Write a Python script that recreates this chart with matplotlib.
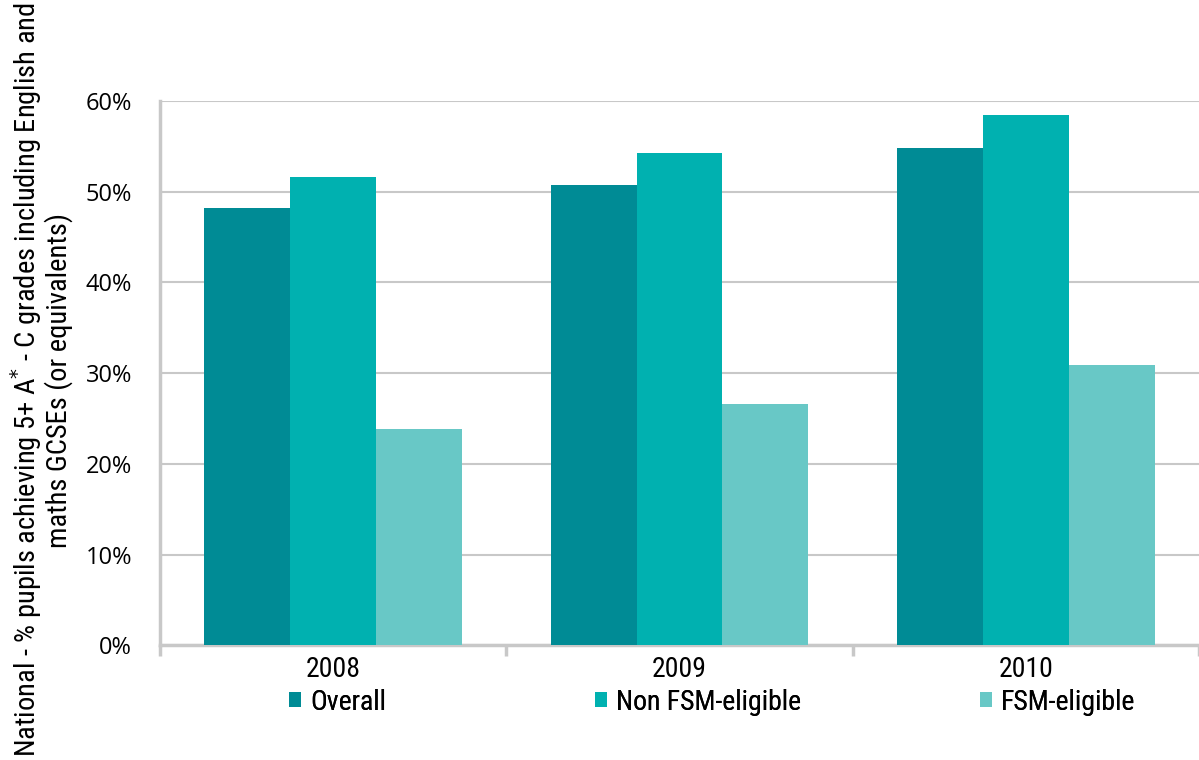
import numpy as np
import matplotlib.pyplot as plt
from matplotlib.ticker import FixedLocator, PercentFormatter

years = ['2008', '2009', '2010']
overall = [48.2, 50.7, 54.8]
non_fsm = [51.6, 54.3, 58.5]
fsm = [23.8, 26.6, 30.9]

series = [
    ('Overall', overall, '#008b95'),
    ('Non FSM-eligible', non_fsm, '#00b1b0'),
    ('FSM-eligible', fsm, '#68c8c6'),
]

NARROW = ['Roboto Condensed', 'Fira Sans Condensed', 'PT Sans Narrow',
          'Liberation Sans Narrow', 'DejaVu Sans']
GRID = '#c8c8c8'
LEGEND_X = [0.241, 0.496, 0.817]

fig = plt.figure(figsize=(11.99, 7.6), dpi=100)
ax = fig.add_axes([0.1334, 0.151, 0.8666, 0.716])

x = np.arange(len(years))
width = 0.248
bars = []
for i, (label, vals, color) in enumerate(series):
    bars.append(ax.bar(x + (i - 1) * width, vals, width, color=color,
                       label=label, zorder=3, linewidth=0))

ax.set_xlim(-0.5, len(years) - 0.5)
ax.set_ylim(0, 60)
ax.set_yticks(range(0, 61, 10))
ax.yaxis.set_major_formatter(PercentFormatter(decimals=0))
ax.grid(axis='y', color=GRID, linewidth=1.5, zorder=0)

for side in ('top', 'right'):
    ax.spines[side].set_visible(False)
for side in ('left', 'bottom'):
    ax.spines[side].set_color(GRID)
    ax.spines[side].set_linewidth(2.5)

ax.set_xticks(x)
ax.set_xticklabels(years, family=NARROW, fontsize=20)
ax.xaxis.set_minor_locator(FixedLocator(np.arange(-0.5, len(years), 1.0)))
ax.tick_params(axis='x', which='major', length=0, pad=8)
ax.tick_params(axis='x', which='minor', length=8, width=2.5, color=GRID)
ax.tick_params(axis='y', length=0, pad=20, labelsize=17, colors='black')
for lbl in ax.get_yticklabels():
    lbl.set_family(['Open Sans', 'DejaVu Sans'])

fig.text(0.034, 0.5,
         'National - % pupils achieving 5+ A$^{*}$ - C grades including English and\n'
         'maths GCSEs (or equivalents)',
         rotation=90, ha='center', va='center', family=NARROW, fontsize=20.5,
         linespacing=1.0)

# one legend per entry so the three keys sit where the layout wants them
for bc, (label, _, _), lx in zip(bars, series, LEGEND_X):
    leg = fig.legend([bc], [label], loc='center left',
                     bbox_to_anchor=(lx, 0.076), frameon=False,
                     prop={'family': NARROW, 'size': 20}, handlelength=0.45,
                     handleheight=0.45, handletextpad=0.3, borderpad=0,
                     borderaxespad=0)
    fig.add_artist(leg)

fig.savefig('out.png', dpi=100)
